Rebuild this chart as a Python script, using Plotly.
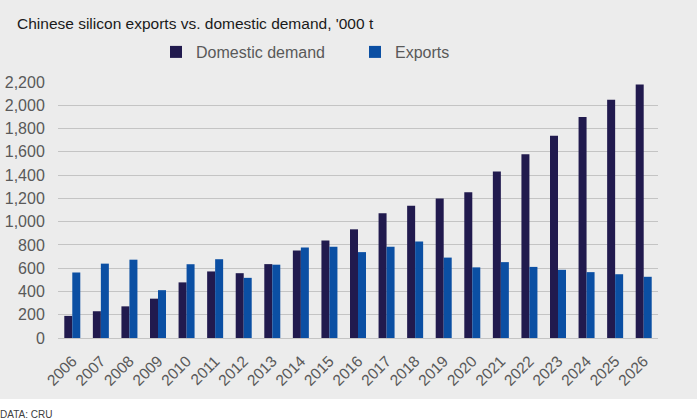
import plotly.graph_objs as go

years = [str(y) for y in range(2006, 2027)]

domestic_demand = [190, 230, 272, 338, 478, 572, 557, 635, 753, 838, 934, 1072,
                   1136, 1198, 1253, 1430, 1580, 1739, 1900, 2047, 2178]
exports = [563, 639, 673, 411, 634, 677, 517, 630, 777, 784, 738, 784,
           829, 691, 607, 652, 611, 586, 566, 548, 526]

bg = '#ececec'
grey_text = '#595959'

fig = go.Figure()

fig.add_trace(go.Bar(x=years, y=domestic_demand, name='Domestic demand',
                     marker=dict(color='#211a4e', line=dict(width=0))))
fig.add_trace(go.Bar(x=years, y=exports, name='Exports',
                     marker=dict(color='#0b4fa3', line=dict(width=0))))

fig.update_layout(
    width=699,
    height=419,
    margin=dict(l=58, r=41, t=82, b=81),
    paper_bgcolor=bg,
    plot_bgcolor=bg,
    font=dict(family='Liberation Sans, Arial, sans-serif', color=grey_text, size=15),
    barmode='group',
    bargap=0.44,
    bargroupgap=0,
    title=dict(text="Chinese silicon exports vs. domestic demand, '000 t",
               x=17 / 699, xanchor='left', y=1 - 24 / 419, yanchor='middle',
               font=dict(size=15.5, color='#1a1a1a')),
    legend=dict(orientation='h', x=98 / 600, xanchor='left',
                y=1 + 30 / 256, yanchor='middle',
                entrywidth=154, entrywidthmode='pixels',
                font=dict(size=16, color=grey_text),
                bgcolor='rgba(0,0,0,0)'),
    showlegend=True,
    xaxis=dict(tickangle=-45, showgrid=False, showline=False, automargin=False,
               ticks='outside', ticklen=7, tickcolor='rgba(0,0,0,0)',
               tickfont=dict(size=15.5, color=grey_text)),
    yaxis=dict(range=[0, 2200], dtick=200, tickformat=',', automargin=False,
               showgrid=True, gridcolor='#c4c4c4', gridwidth=1,
               zeroline=True, zerolinecolor='#c4c4c4', zerolinewidth=1,
               showline=False, ticks='outside', ticklen=9,
               tickcolor='rgba(0,0,0,0)',
               tickfont=dict(size=16, color=grey_text)),
    shapes=[dict(type='rect', xref='paper', yref='paper',
                 x0=-0.2, x1=1.2, y0=(338 - 399) / 256, y1=-0.5,
                 fillcolor='white', line=dict(width=0), layer='below'),
            dict(type='rect', xref='paper', yref='paper',
                 x0=(697 - 58) / 600, x1=1.2, y0=-0.5, y1=1.5,
                 fillcolor='white', line=dict(width=0), layer='below')],
    annotations=[dict(text='DATA: CRU', xref='paper', yref='paper',
                      x=-60 / 600, xanchor='left', y=(338 - 414) / 256,
                      yanchor='middle', showarrow=False,
                      font=dict(size=10, color='#404040'))],
)

fig.write_html("out.html", config={'displayModeBar': False},
               post_script="document.body.style.margin='0';")
